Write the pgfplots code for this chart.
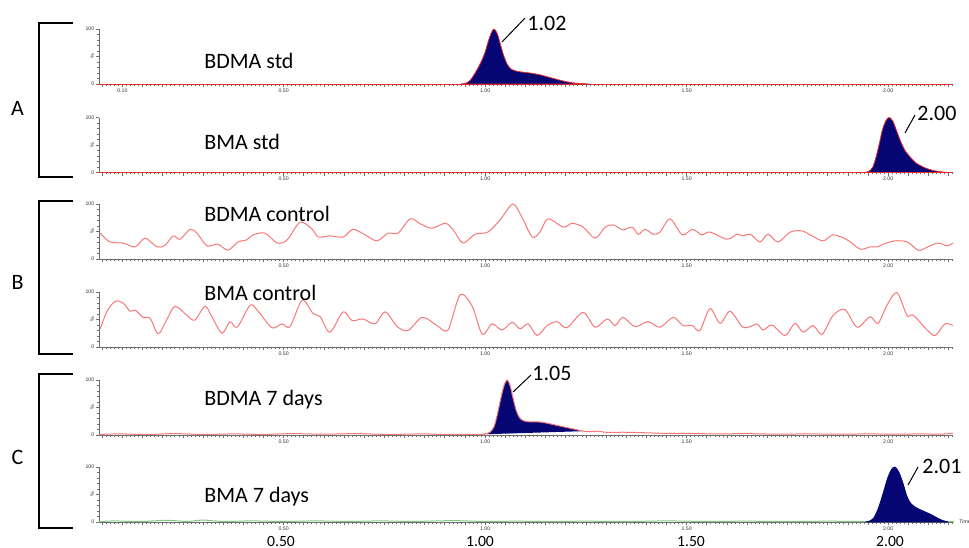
\documentclass[border=0pt]{standalone}
\usepackage{fontspec}
\setmainfont{Carlito}
\newfontfamily\tickf{Liberation Sans}
\usepackage{pgfplots}
\pgfplotsset{compat=1.18}
\definecolor{navyfill}{RGB}{5,5,115}
\definecolor{peakred}{RGB}{225,45,45}
\definecolor{noisered}{RGB}{248,120,120}
\definecolor{noisegreen}{RGB}{130,200,130}
\definecolor{axgray}{RGB}{110,110,110}

\pgfplotsset{
  chrom/.style={
    scale only axis, width=427pt, height=27.5pt,
    anchor=south west,
    xmin=0.042, xmax=2.161, ymin=0, ymax=100,
    axis lines=left,
    axis line style={-, draw=axgray, line width=0.35pt},
    every tick/.style={draw=axgray, line width=0.3pt},
    tick align=outside,
    major tick length=1.6pt, minor tick length=0.9pt,
    xtick={0.05,0.1,...,2.15}, xticklabels={},
    minor xtick={0.04,0.05,...,2.16},
    extra x ticks={0.5,1,1.5,2},
    extra x tick labels={0.50,1.00,1.50,2.00},
    ytick={0,50,100}, yticklabels={0,\rotatebox{90}{\%},100},
    minor y tick num=4,
    tick label style={font=\tickf\fontsize{2.6}{3}\selectfont, text=black!80, inner sep=0.6pt},
    clip=false,
  },
  noise/.style={draw=noisered, line width=0.5pt, smooth, tension=0.5},
}

\begin{document}
\begin{tikzpicture}
\useasboundingbox (0,0) rectangle (484.5pt,-273.5pt);

% ---- A: BDMA std
\begin{axis}[chrom, at={(49.5pt,-42pt)},
  extra x ticks={0.1,0.5,1,1.5,2},
  extra x tick labels={0.10,0.50,1.00,1.50,2.00}]
\addplot[draw=peakred, line width=0.5pt] coordinates {(0.042,0) (2.161,0)};
\addplot[fill=navyfill, draw=peakred, line width=0.4pt, smooth, tension=0.5] coordinates {
(0.940,0)(0.952,1.5)(0.962,6)(0.970,14)(0.980,26)(0.990,40)(1.000,58)(1.008,78)
(1.016,94)(1.022,100)(1.030,92)(1.038,72)(1.046,52)(1.055,36)(1.065,27)(1.080,23)
(1.100,21)(1.120,19)(1.140,16)(1.160,12)(1.180,8)(1.200,4.5)(1.220,2)(1.240,0.8)(1.258,0)
} \closedcycle;
\end{axis}

% ---- A: BMA std
\begin{axis}[chrom, at={(49.5pt,-86.25pt)}]
\addplot[draw=peakred, line width=0.5pt] coordinates {(0.042,0) (2.161,0)};
\addplot[fill=navyfill, draw=peakred, line width=0.4pt, smooth, tension=0.5] coordinates {
(1.940,0)(1.952,2)(1.962,10)(1.970,28)(1.978,52)(1.986,78)(1.995,95)(2.003,100)
(2.012,93)(2.022,74)(2.032,55)(2.042,40)(2.055,28)(2.070,17)(2.090,9)(2.110,4)
(2.130,1.5)(2.148,0)
} \closedcycle;
\end{axis}

% ---- B: BDMA control
\begin{axis}[chrom, at={(49.5pt,-129.5pt)}]
\addplot[noise] coordinates {
(0.045,47)(0.069,31)(0.102,29)(0.132,22)(0.156,38)(0.186,22)(0.206,25)(0.226,42)
(0.243,36)(0.268,54)(0.285,47)(0.310,24)(0.337,27)(0.362,16)(0.387,31)(0.409,35)
(0.424,44)(0.454,47)(0.484,29)(0.509,35)(0.541,67)(0.571,54)(0.586,40)(0.615,42)
(0.648,40)(0.672,54)(0.702,44)(0.732,33)(0.759,47)(0.784,47)(0.814,73)(0.839,64)
(0.868,56)(0.901,65)(0.921,53)(0.945,29)(0.975,45)(1.007,49)(1.037,71)(1.069,100)
(1.092,75)(1.117,40)(1.136,49)(1.156,73)(1.194,58)(1.216,65)(1.243,58)(1.273,38)
(1.298,58)(1.318,62)(1.342,53)(1.365,58)(1.380,45)(1.397,54)(1.417,45)(1.434,49)
(1.459,73)(1.489,44)(1.514,54)(1.538,44)(1.558,49)(1.600,36)(1.625,45)(1.640,42)
(1.658,45)(1.682,31)(1.702,45)(1.727,31)(1.757,49)(1.787,51)(1.811,42)(1.839,33)
(1.864,44)(1.898,35)(1.931,18)(1.955,22)(1.973,22)(1.988,27)(2.017,33)(2.047,31)
(2.074,16)(2.087,18)(2.122,29)(2.146,24)(2.161,29)
};
\end{axis}

% ---- B: BMA control
\begin{axis}[chrom, at={(49.5pt,-173.5pt)}]
\addplot[noise] coordinates {
(0.045,33)(0.062,65)(0.082,83)(0.102,80)(0.119,65)(0.132,67)(0.151,54)(0.169,52)
(0.189,24)(0.211,51)(0.231,74)(0.261,57)(0.280,49)(0.305,74)(0.323,54)(0.347,25)
(0.367,46)(0.385,36)(0.417,76)(0.437,65)(0.471,35)(0.496,42)(0.516,37)(0.546,85)
(0.573,61)(0.591,55)(0.615,27)(0.648,64)(0.670,48)(0.697,51)(0.727,42)(0.752,64)
(0.782,37)(0.809,30)(0.844,54)(0.881,39)(0.908,31)(0.938,95)(0.968,74)(0.993,23)
(1.017,42)(1.042,31)(1.067,45)(1.087,33)(1.107,42)(1.129,21)(1.154,39)(1.179,46)
(1.203,35)(1.243,63)(1.273,36)(1.303,51)(1.323,39)(1.342,54)(1.372,37)(1.404,46)
(1.434,36)(1.467,54)(1.491,39)(1.514,39)(1.533,30)(1.558,70)(1.583,43)(1.608,65)
(1.638,37)(1.658,37)(1.675,42)(1.690,31)(1.712,40)(1.744,21)(1.769,43)(1.789,27)
(1.814,39)(1.836,23)(1.864,58)(1.893,68)(1.923,36)(1.955,55)(1.975,43)(1.998,77)
(2.022,99)(2.047,57)(2.062,58)(2.097,31)(2.117,21)(2.141,42)(2.161,39)
};
\end{axis}

% ---- C: BDMA 7 days
\begin{axis}[chrom, at={(49.5pt,-217.5pt)}]
\addplot[fill=navyfill, draw=none, smooth, tension=0.5] coordinates {
(0.985,1)(1.000,2)(1.012,5)(1.022,15)(1.030,36)(1.040,70)(1.048,92)(1.055,100)
(1.062,90)(1.069,68)(1.077,45)(1.085,32)(1.095,26)(1.110,24)(1.130,24)(1.150,22)
(1.175,18)(1.200,14)(1.225,10)(1.243,7)
} -- cycle;
\addplot[noise] coordinates {
(0.042,1)(0.09,2)(0.16,1)(0.23,2.5)(0.30,1)(0.38,2)(0.45,1)(0.52,2.5)(0.60,1.5)
(0.68,2.5)(0.76,1)(0.84,2)(0.90,1)(0.96,1)(0.985,1)(1.000,2)(1.012,5)(1.022,15)
(1.030,36)(1.040,70)(1.048,92)(1.055,100)(1.062,90)(1.069,68)(1.077,45)(1.085,32)
(1.095,26)(1.110,24)(1.130,24)(1.150,22)(1.175,18)(1.200,14)(1.225,10)(1.243,7)
(1.262,6)(1.280,7)(1.300,5)(1.35,5)(1.40,4)(1.45,3)(1.50,3)(1.57,2)(1.65,2.5)
(1.72,1.5)(1.80,2)(1.88,1.5)(1.95,2)(2.02,1.5)(2.08,2)(2.13,1.5)(2.161,3)
};
\end{axis}

% ---- C: BMA 7 days
\begin{axis}[chrom, at={(49.5pt,-261pt)}]
\addplot[draw=noisegreen, line width=0.5pt, smooth, tension=0.5] coordinates {
(0.042,0.5)(0.08,2)(0.14,0.8)(0.21,3)(0.26,1)(0.30,3.5)(0.35,1)(0.42,2)(0.50,1)
(0.58,2)(0.66,1)(0.74,2)(0.82,1)(0.92,2.5)(1.00,1)(1.08,1.5)(1.16,0.8)(1.25,1.5)
(1.35,0.8)(1.45,2)(1.55,1)(1.65,1.5)(1.75,0.8)(1.85,1.5)(1.93,0.8)(1.950,0.5)
(2.146,0.5)(2.161,1)
};
\addplot[fill=navyfill, draw=navyfill, line width=0.4pt, smooth, tension=0.5] coordinates {
(1.945,0.3)(1.955,2)(1.965,8)(1.973,20)(1.980,34)(1.990,58)(1.998,78)(2.008,95)
(2.017,100)(2.027,90)(2.037,70)(2.047,46)(2.057,33)(2.072,25)(2.090,19)(2.105,14)
(2.120,8)(2.136,2.5)(2.148,0.5)
} \closedcycle;
\node[anchor=west, font=\tickf\fontsize{2.6}{3}\selectfont, text=black!80, inner sep=0pt]
  at (axis cs:2.161,0) [xshift=3pt] {Time};
\end{axis}

% ---- brackets and group letters
\begin{scope}[line width=1.4pt]
\draw (36.5pt,-11.5pt) -- (19.5pt,-11.5pt) -- (19.5pt,-88.5pt) -- (36.5pt,-88.5pt);
\draw (36.5pt,-100.5pt) -- (19.5pt,-100.5pt) -- (19.5pt,-177pt) -- (36.5pt,-177pt);
\draw (36.5pt,-187pt) -- (19.5pt,-187pt) -- (19.5pt,-264pt) -- (36.5pt,-264pt);
\end{scope}
\begin{scope}[every node/.style={font=\fontsize{11}{13}\selectfont, inner sep=0pt}]
\node at (8.75pt,-54pt) {A};
\node at (8.75pt,-141pt) {B};
\node at (8.75pt,-228.5pt) {C};
% sample names
\node[anchor=base west] at (102pt,-34.2pt) {BDMA std};
\node[anchor=base west] at (102pt,-74.7pt) {BMA std};
\node[anchor=base west] at (102pt,-110.5pt) {BDMA control};
\node[anchor=base west] at (102pt,-150pt) {BMA control};
\node[anchor=base west] at (102pt,-202.5pt) {BDMA 7 days};
\node[anchor=base west] at (102pt,-251.3pt) {BMA 7 days};
% retention times
\node[anchor=base west] at (263.5pt,-15pt) {1.02};
\node[anchor=base west] at (458.5pt,-60pt) {2.00};
\node[anchor=base west] at (266pt,-190pt) {1.05};
\node[anchor=base west] at (461pt,-236.5pt) {2.01};
\end{scope}
\begin{scope}[line width=0.5pt]
\draw (251pt,-21pt) -- (262.5pt,-9pt);
\draw (452.5pt,-66.5pt) -- (457.5pt,-57.5pt);
\draw (256.5pt,-196pt) -- (265.5pt,-187.5pt);
\draw (454pt,-242.5pt) -- (459pt,-233.5pt);
\end{scope}
% large time labels under the last trace
\begin{scope}[every node/.style={font=\fontsize{7.8}{9}\selectfont, inner sep=0pt, anchor=base}]
\node at (140.5pt,-273pt) {0.50};
\node at (240pt,-273pt) {1.00};
\node at (345.5pt,-273pt) {1.50};
\node at (445pt,-273pt) {2.00};
\end{scope}
\end{tikzpicture}
\end{document}
